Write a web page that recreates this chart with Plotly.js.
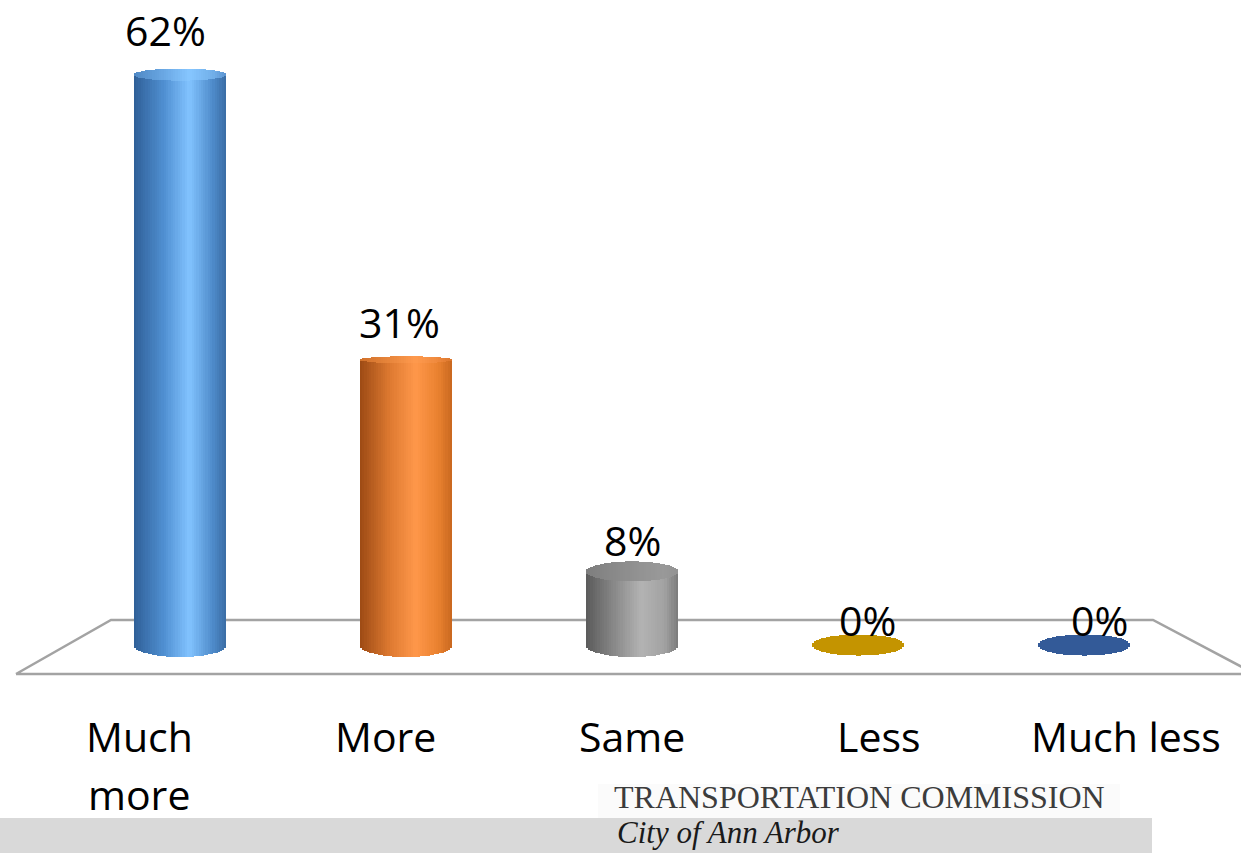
<!DOCTYPE html>
<html>
<head>
<meta charset="utf-8">
<script src="https://cdn.plot.ly/plotly-3.0.1.min.js"></script>
<style>
  html, body { margin: 0; padding: 0; background: #ffffff; }
  #chart { width: 1241px; height: 853px; }
</style>
</head>
<body>
<div id="chart"></div>
<script>
// ---------------- DATA ----------------
const categories = ['Much more', 'More', 'Same', 'Less', 'Much less'];
const tickLabels = ['Much<br>more', 'More', 'Same', 'Less', 'Much less'];
const values = [62, 31, 8, 0, 0];
const valueLabels = ['62%', '31%', '8%', '0%', '0%'];
const footerTitle = 'TRANSPORTATION COMMISSION';
const footerSub = 'City of Ann Arbor';

// ---------------- STYLE ----------------
const W = 1241, H = 853;
const pxPerUnit = 9.2;          // vertical pixels per percentage point
const basePx = 645;             // pixel row of the 0 line
const catPx = 226;              // pixels between categories
const firstCatPx = 180;         // pixel column of first category
const barWidth = 0.41;          // in category units
const nStrips = 40;

// body gradient stops (left -> right) per bar
const gradPos = [0, 0.33, 0.6, 0.85, 1];
const bodyGrad = [
  ['#2f5f97', '#5090d2', '#82c3ff', '#4f8ccb', '#3a6ca4'],
  ['#9c4a14', '#de7a31', '#ff974a', '#e9812f', '#c8671f'],
  ['#5a5a5a', '#8c8c8c', '#b3b3b3', '#a2a2a2', '#7b7b7b'],
  ['#c49400', '#c49400', '#c49400', '#c49400', '#c49400'],
  ['#335a98', '#335a98', '#335a98', '#335a98', '#335a98']
];
const capGrad = [
  ['#4f88c4', '#6aa8e4', '#86c6ff', '#72b0ea', '#5c94d0'],
  ['#d0702a', '#e8863c', '#ff9a4e', '#ee883c', '#da752c'],
  ['#7e7e7e', '#8a8a8a', '#939393', '#999999', '#929292'],
  ['#c49400', '#c49400', '#c49400', '#c49400', '#c49400'],
  ['#335a98', '#335a98', '#335a98', '#335a98', '#335a98']
];
const capSemiPx = [6, 3.5, 10, 10.5, 10.5];
const bottomSemiPx = [12, 12, 12, 10.5, 10.5];
const labelLiftPx = [45, 38, 31, 25, 25];
const labelShiftPx = [-15, -7, 0, 9, 15];
const tickShiftPx = [-41, -21, 0, 21, 42];
const tickLine1Px = 736;
const tickLineGapPx = 58;
const fontFam = '"Open Sans", "Noto Sans", sans-serif';

// ---------------- helpers ----------------
function hexToRgb(h) { h = h.replace('#', ''); return [parseInt(h.substr(0,2),16), parseInt(h.substr(2,2),16), parseInt(h.substr(4,2),16)]; }
function lerpColor(stops, u) {
  for (let j = 0; j < gradPos.length - 1; j++) {
    if (u <= gradPos[j+1] || j === gradPos.length - 2) {
      const f = Math.max(0, Math.min(1, (u - gradPos[j]) / (gradPos[j+1] - gradPos[j])));
      const a = hexToRgb(stops[j]), b = hexToRgb(stops[j+1]);
      const c = a.map((v, k) => Math.round(v + (b[k] - v) * f));
      return 'rgb(' + c.join(',') + ')';
    }
  }
}

// axis ranges so that data units map straight to pixels
const xMin = -firstCatPx / catPx;
const xMax = (W - firstCatPx) / catPx;
const yMax = basePx / pxPerUnit;
const yMin = -(H - basePx) / pxPerUnit;

// ---------------- build cylinder strips ----------------
const body = {x: [], y: [], base: [], width: [], offset: [], color: []};
const cap = {x: [], y: [], base: [], width: [], offset: [], color: []};
const stripW = barWidth / nStrips;
values.forEach((v, k) => {
  const hb = bottomSemiPx[k] / pxPerUnit;
  const ht = capSemiPx[k] / pxPerUnit;
  for (let i = 0; i < nStrips; i++) {
    const tc = -1 + (2 * i + 1) / nStrips;
    const s = Math.sqrt(Math.max(0, 1 - tc * tc));
    const u = (i + 0.5) / nStrips;
    const off = -barWidth / 2 + i * stripW;
    const wd = stripW + (i < nStrips - 1 ? 0.002 : 0);
    body.x.push(k); body.base.push(-hb * s); body.y.push(v + hb * s);
    body.width.push(wd); body.offset.push(off); body.color.push(lerpColor(bodyGrad[k], u));
    cap.x.push(k); cap.base.push(v - ht * s); cap.y.push(2 * ht * s);
    cap.width.push(wd); cap.offset.push(off); cap.color.push(lerpColor(capGrad[k], u));
  }
});

const traces = [body, cap].map(d => ({
  type: 'bar', x: d.x, y: d.y, base: d.base, width: d.width, offset: d.offset,
  marker: {color: d.color, line: {width: 0}},
  hoverinfo: 'skip', showlegend: false
}));

// ---------------- annotations ----------------
const annotations = [];
values.forEach((v, k) => {
  annotations.push({
    x: k, y: v, xref: 'x', yref: 'y', text: valueLabels[k], showarrow: false,
    xanchor: 'center', yanchor: 'middle', xshift: labelShiftPx[k], yshift: labelLiftPx[k],
    font: {family: fontFam, size: 41, color: '#000000'}
  });
});
tickLabels.forEach((lab, k) => {
  lab.split('<br>').forEach((line, j) => {
    annotations.push({
      x: k, xref: 'x', y: 1 - (tickLine1Px + j * tickLineGapPx) / H, yref: 'paper',
      text: line, showarrow: false, xanchor: 'center', yanchor: 'middle',
      xshift: tickShiftPx[k], font: {family: fontFam, size: 41, color: '#000000'}
    });
  });
});
annotations.push({
  x: 612 / W, y: 1 - 797 / H, xref: 'paper', yref: 'paper', text: footerTitle, showarrow: false,
  xanchor: 'left', yanchor: 'middle',
  font: {family: '"Liberation Serif", "Times New Roman", serif', size: 32, color: '#3c3c3c'}
});
annotations.push({
  x: 615 / W, y: 1 - 832 / H, xref: 'paper', yref: 'paper', text: '<i>' + footerSub + '</i>', showarrow: false,
  xanchor: 'left', yanchor: 'middle',
  font: {family: '"Liberation Serif", "Times New Roman", serif', size: 31, color: '#1a1a1a'}
});

// ---------------- floor & footer shapes ----------------
const floorBack = (basePx - 620) / pxPerUnit;
const floorFront = -(674 - basePx) / pxPerUnit;
const px2x = p => (p - firstCatPx) / catPx;
const floorPath = 'M ' + px2x(16) + ' ' + floorFront +
  ' L ' + px2x(111) + ' ' + floorBack +
  ' L ' + px2x(1153) + ' ' + floorBack +
  ' L ' + px2x(1250) + ' ' + (floorFront + 0.3) +
  ' M ' + px2x(1250) + ' ' + floorFront +
  ' L ' + px2x(16) + ' ' + floorFront;

const shapes = [
  {type: 'rect', xref: 'paper', yref: 'paper', x0: 598 / W, x1: 1120 / W, y0: 1 - 818 / H, y1: 1 - 784 / H,
   fillcolor: '#fbfbfb', line: {width: 0}, layer: 'below'},
  {type: 'rect', xref: 'paper', yref: 'paper', x0: 0, x1: 1152 / W, y0: 0, y1: 1 - 818 / H,
   fillcolor: '#d9d9d9', line: {width: 0}, layer: 'below'},
  {type: 'path', xref: 'x', yref: 'y', path: floorPath, line: {color: '#a3a3a3', width: 2.5}, layer: 'below'}
];

const layout = {
  width: W, height: H,
  margin: {l: 0, r: 0, t: 0, b: 0, pad: 0},
  paper_bgcolor: '#ffffff', plot_bgcolor: 'rgba(0,0,0,0)',
  barmode: 'overlay', bargap: 0,
  showlegend: false,
  xaxis: {type: 'linear', range: [xMin, xMax], showgrid: false, zeroline: false, showticklabels: false, ticks: '', showline: false, fixedrange: true},
  yaxis: {range: [yMin, yMax], showgrid: false, zeroline: false, showticklabels: false, ticks: '', showline: false, fixedrange: true},
  shapes: shapes,
  annotations: annotations
};

Plotly.newPlot('chart', traces, layout, {displayModeBar: false, staticPlot: true});
</script>
</body>
</html>
